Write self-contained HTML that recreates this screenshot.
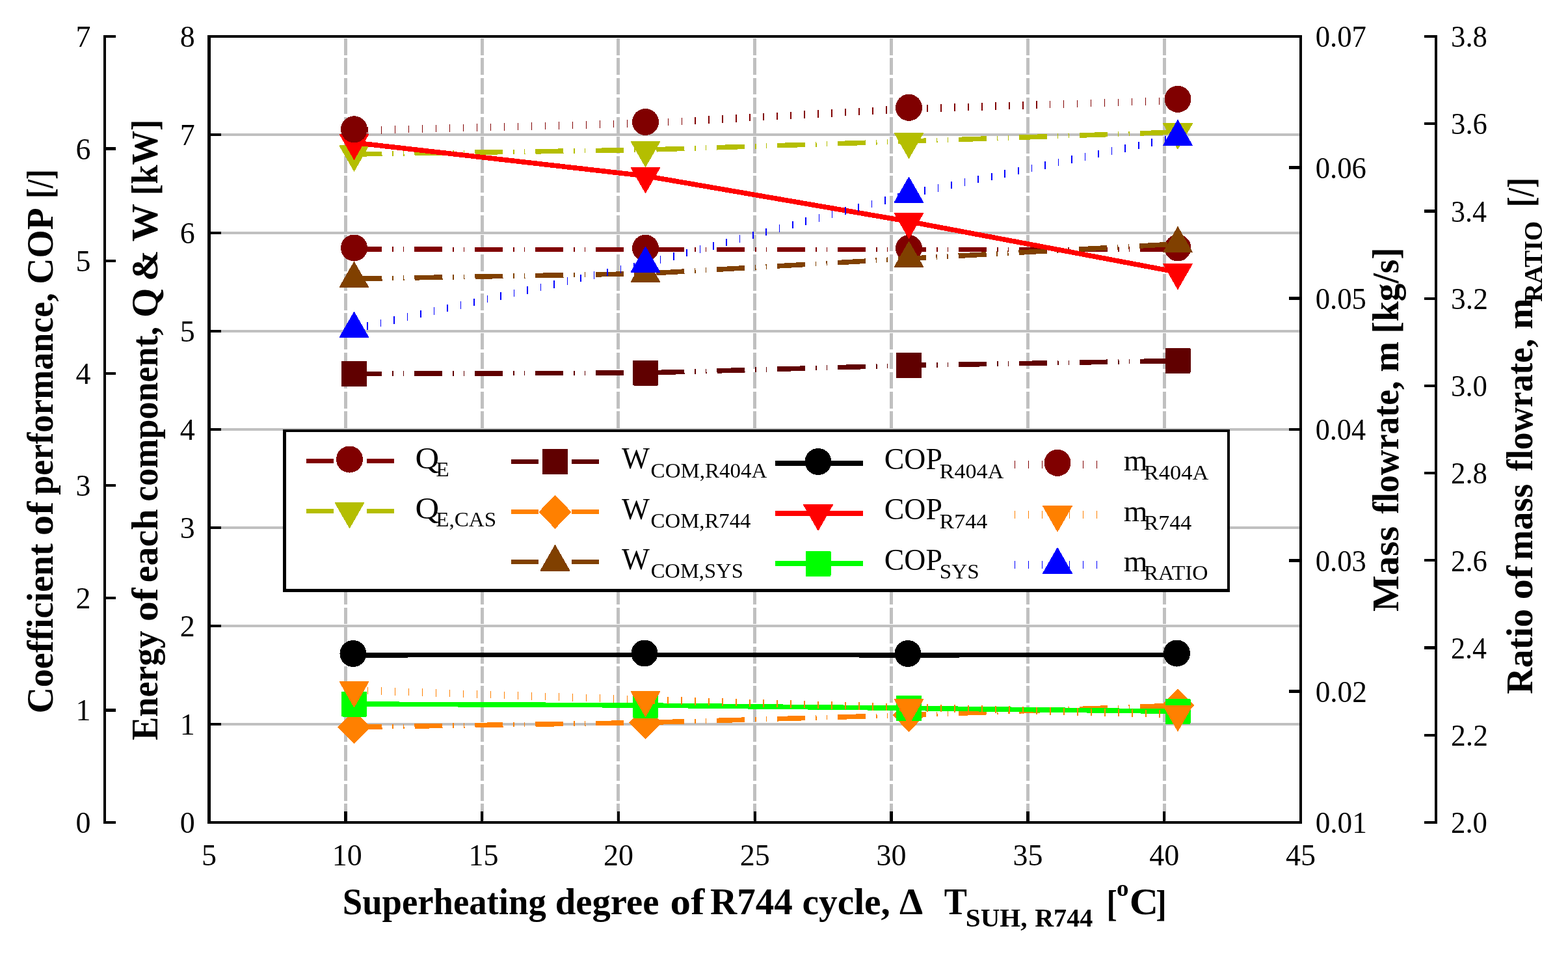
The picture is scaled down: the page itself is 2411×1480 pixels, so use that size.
<!DOCTYPE html><html><head><meta charset="utf-8"><title>Chart</title><style>html,body{margin:0;padding:0;background:#fff;overflow:hidden;}svg{display:block;}text{font-family:"Liberation Serif", "Times New Roman", serif;}</style></head><body>
<svg width="2411" height="1480" viewBox="0 0 2411 1480" shape-rendering="crispEdges">
<rect x="0" y="0" width="2411" height="1480" fill="#fff"/>
<line x1="321.5" y1="1113.0" x2="2000.0" y2="1113.0" stroke="#C0C0C0" stroke-width="4.4"/>
<line x1="321.5" y1="962.0" x2="2000.0" y2="962.0" stroke="#C0C0C0" stroke-width="4.4"/>
<line x1="321.5" y1="811.0" x2="2000.0" y2="811.0" stroke="#C0C0C0" stroke-width="4.4"/>
<line x1="321.5" y1="660.0" x2="2000.0" y2="660.0" stroke="#C0C0C0" stroke-width="4.4"/>
<line x1="321.5" y1="509.0" x2="2000.0" y2="509.0" stroke="#C0C0C0" stroke-width="4.4"/>
<line x1="321.5" y1="358.0" x2="2000.0" y2="358.0" stroke="#C0C0C0" stroke-width="4.4"/>
<line x1="321.5" y1="207.0" x2="2000.0" y2="207.0" stroke="#C0C0C0" stroke-width="4.4"/>
<line x1="531.31" y1="59.3" x2="531.31" y2="1264.0" stroke="#C0C0C0" stroke-width="5" stroke-dasharray="25.6 4.55"/>
<line x1="741.12" y1="59.3" x2="741.12" y2="1264.0" stroke="#C0C0C0" stroke-width="5" stroke-dasharray="25.6 4.55"/>
<line x1="950.94" y1="59.3" x2="950.94" y2="1264.0" stroke="#C0C0C0" stroke-width="5" stroke-dasharray="25.6 4.55"/>
<line x1="1160.75" y1="59.3" x2="1160.75" y2="1264.0" stroke="#C0C0C0" stroke-width="5" stroke-dasharray="25.6 4.55"/>
<line x1="1370.56" y1="59.3" x2="1370.56" y2="1264.0" stroke="#C0C0C0" stroke-width="5" stroke-dasharray="25.6 4.55"/>
<line x1="1580.38" y1="59.3" x2="1580.38" y2="1264.0" stroke="#C0C0C0" stroke-width="5" stroke-dasharray="25.6 4.55"/>
<line x1="1790.19" y1="59.3" x2="1790.19" y2="1264.0" stroke="#C0C0C0" stroke-width="5" stroke-dasharray="25.6 4.55"/>
<rect x="321.5" y="56.0" width="1678.5" height="1208.0" fill="none" stroke="#000" stroke-width="4.6"/>
<line x1="321.5" y1="1264.0" x2="339.5" y2="1264.0" stroke="#000" stroke-width="4.5"/>
<line x1="321.5" y1="1113.0" x2="339.5" y2="1113.0" stroke="#000" stroke-width="4.5"/>
<line x1="321.5" y1="962.0" x2="339.5" y2="962.0" stroke="#000" stroke-width="4.5"/>
<line x1="321.5" y1="811.0" x2="339.5" y2="811.0" stroke="#000" stroke-width="4.5"/>
<line x1="321.5" y1="660.0" x2="339.5" y2="660.0" stroke="#000" stroke-width="4.5"/>
<line x1="321.5" y1="509.0" x2="339.5" y2="509.0" stroke="#000" stroke-width="4.5"/>
<line x1="321.5" y1="358.0" x2="339.5" y2="358.0" stroke="#000" stroke-width="4.5"/>
<line x1="321.5" y1="207.0" x2="339.5" y2="207.0" stroke="#000" stroke-width="4.5"/>
<line x1="321.5" y1="56.0" x2="339.5" y2="56.0" stroke="#000" stroke-width="4.5"/>
<line x1="321.50" y1="1264.0" x2="321.50" y2="1247.0" stroke="#000" stroke-width="4.5"/>
<line x1="531.31" y1="1264.0" x2="531.31" y2="1247.0" stroke="#000" stroke-width="4.5"/>
<line x1="741.12" y1="1264.0" x2="741.12" y2="1247.0" stroke="#000" stroke-width="4.5"/>
<line x1="950.94" y1="1264.0" x2="950.94" y2="1247.0" stroke="#000" stroke-width="4.5"/>
<line x1="1160.75" y1="1264.0" x2="1160.75" y2="1247.0" stroke="#000" stroke-width="4.5"/>
<line x1="1370.56" y1="1264.0" x2="1370.56" y2="1247.0" stroke="#000" stroke-width="4.5"/>
<line x1="1580.38" y1="1264.0" x2="1580.38" y2="1247.0" stroke="#000" stroke-width="4.5"/>
<line x1="1790.19" y1="1264.0" x2="1790.19" y2="1247.0" stroke="#000" stroke-width="4.5"/>
<line x1="2000.00" y1="1264.0" x2="2000.00" y2="1247.0" stroke="#000" stroke-width="4.5"/>
<line x1="2000.0" y1="1264.00" x2="1982.0" y2="1264.00" stroke="#000" stroke-width="4.5"/>
<line x1="2000.0" y1="1062.67" x2="1982.0" y2="1062.67" stroke="#000" stroke-width="4.5"/>
<line x1="2000.0" y1="861.33" x2="1982.0" y2="861.33" stroke="#000" stroke-width="4.5"/>
<line x1="2000.0" y1="660.00" x2="1982.0" y2="660.00" stroke="#000" stroke-width="4.5"/>
<line x1="2000.0" y1="458.67" x2="1982.0" y2="458.67" stroke="#000" stroke-width="4.5"/>
<line x1="2000.0" y1="257.33" x2="1982.0" y2="257.33" stroke="#000" stroke-width="4.5"/>
<line x1="2000.0" y1="56.00" x2="1982.0" y2="56.00" stroke="#000" stroke-width="4.5"/>
<line x1="161.0" y1="53.75" x2="161.0" y2="1266.25" stroke="#000" stroke-width="4"/>
<line x1="159.0" y1="1264.00" x2="178.0" y2="1264.00" stroke="#000" stroke-width="4.3"/>
<line x1="159.0" y1="1091.43" x2="178.0" y2="1091.43" stroke="#000" stroke-width="4.3"/>
<line x1="159.0" y1="918.86" x2="178.0" y2="918.86" stroke="#000" stroke-width="4.3"/>
<line x1="159.0" y1="746.29" x2="178.0" y2="746.29" stroke="#000" stroke-width="4.3"/>
<line x1="159.0" y1="573.71" x2="178.0" y2="573.71" stroke="#000" stroke-width="4.3"/>
<line x1="159.0" y1="401.14" x2="178.0" y2="401.14" stroke="#000" stroke-width="4.3"/>
<line x1="159.0" y1="228.57" x2="178.0" y2="228.57" stroke="#000" stroke-width="4.3"/>
<line x1="159.0" y1="56.00" x2="178.0" y2="56.00" stroke="#000" stroke-width="4.3"/>
<line x1="2208.0" y1="53.75" x2="2208.0" y2="1266.25" stroke="#000" stroke-width="4"/>
<line x1="2210.0" y1="1264.00" x2="2190.0" y2="1264.00" stroke="#000" stroke-width="4.3"/>
<line x1="2210.0" y1="1129.78" x2="2190.0" y2="1129.78" stroke="#000" stroke-width="4.3"/>
<line x1="2210.0" y1="995.56" x2="2190.0" y2="995.56" stroke="#000" stroke-width="4.3"/>
<line x1="2210.0" y1="861.33" x2="2190.0" y2="861.33" stroke="#000" stroke-width="4.3"/>
<line x1="2210.0" y1="727.11" x2="2190.0" y2="727.11" stroke="#000" stroke-width="4.3"/>
<line x1="2210.0" y1="592.89" x2="2190.0" y2="592.89" stroke="#000" stroke-width="4.3"/>
<line x1="2210.0" y1="458.67" x2="2190.0" y2="458.67" stroke="#000" stroke-width="4.3"/>
<line x1="2210.0" y1="324.44" x2="2190.0" y2="324.44" stroke="#000" stroke-width="4.3"/>
<line x1="2210.0" y1="190.22" x2="2190.0" y2="190.22" stroke="#000" stroke-width="4.3"/>
<line x1="2210.0" y1="56.00" x2="2190.0" y2="56.00" stroke="#000" stroke-width="4.3"/>
<text x="139.5" y="1280.0" font-size="46" text-anchor="end">0</text>
<text x="139.5" y="1107.4" font-size="46" text-anchor="end">1</text>
<text x="139.5" y="934.9" font-size="46" text-anchor="end">2</text>
<text x="139.5" y="762.3" font-size="46" text-anchor="end">3</text>
<text x="139.5" y="589.7" font-size="46" text-anchor="end">4</text>
<text x="139.5" y="417.1" font-size="46" text-anchor="end">5</text>
<text x="139.5" y="244.6" font-size="46" text-anchor="end">6</text>
<text x="139.5" y="72.0" font-size="46" text-anchor="end">7</text>
<text x="299.7" y="1280.0" font-size="46" text-anchor="end">0</text>
<text x="299.7" y="1129.0" font-size="46" text-anchor="end">1</text>
<text x="299.7" y="978.0" font-size="46" text-anchor="end">2</text>
<text x="299.7" y="827.0" font-size="46" text-anchor="end">3</text>
<text x="299.7" y="676.0" font-size="46" text-anchor="end">4</text>
<text x="299.7" y="525.0" font-size="46" text-anchor="end">5</text>
<text x="299.7" y="374.0" font-size="46" text-anchor="end">6</text>
<text x="299.7" y="223.0" font-size="46" text-anchor="end">7</text>
<text x="299.7" y="72.0" font-size="46" text-anchor="end">8</text>
<text x="2022.63" y="1280.20" font-size="46" font-weight="normal" textLength="79.33" lengthAdjust="spacingAndGlyphs">0.01</text>
<text x="2022.63" y="1078.87" font-size="46" font-weight="normal" textLength="79.33" lengthAdjust="spacingAndGlyphs">0.02</text>
<text x="2022.65" y="877.53" font-size="46" font-weight="normal" textLength="78.30" lengthAdjust="spacingAndGlyphs">0.03</text>
<text x="2022.68" y="676.20" font-size="46" font-weight="normal" textLength="77.30" lengthAdjust="spacingAndGlyphs">0.04</text>
<text x="2022.65" y="474.87" font-size="46" font-weight="normal" textLength="78.30" lengthAdjust="spacingAndGlyphs">0.05</text>
<text x="2022.65" y="273.53" font-size="46" font-weight="normal" textLength="78.30" lengthAdjust="spacingAndGlyphs">0.06</text>
<text x="2022.65" y="72.20" font-size="46" font-weight="normal" textLength="78.30" lengthAdjust="spacingAndGlyphs">0.07</text>
<text x="2231.06" y="1280.20" font-size="46" font-weight="normal" textLength="55.90" lengthAdjust="spacingAndGlyphs">2.0</text>
<text x="2231.02" y="1145.98" font-size="46" font-weight="normal" textLength="56.96" lengthAdjust="spacingAndGlyphs">2.2</text>
<text x="2231.09" y="1011.76" font-size="46" font-weight="normal" textLength="54.89" lengthAdjust="spacingAndGlyphs">2.4</text>
<text x="2231.06" y="877.53" font-size="46" font-weight="normal" textLength="55.90" lengthAdjust="spacingAndGlyphs">2.6</text>
<text x="2231.06" y="743.31" font-size="46" font-weight="normal" textLength="55.90" lengthAdjust="spacingAndGlyphs">2.8</text>
<text x="2231.06" y="609.09" font-size="46" font-weight="normal" textLength="55.90" lengthAdjust="spacingAndGlyphs">3.0</text>
<text x="2231.02" y="474.87" font-size="46" font-weight="normal" textLength="56.96" lengthAdjust="spacingAndGlyphs">3.2</text>
<text x="2231.09" y="340.64" font-size="46" font-weight="normal" textLength="54.89" lengthAdjust="spacingAndGlyphs">3.4</text>
<text x="2231.06" y="206.42" font-size="46" font-weight="normal" textLength="55.90" lengthAdjust="spacingAndGlyphs">3.6</text>
<text x="2231.06" y="72.20" font-size="46" font-weight="normal" textLength="55.90" lengthAdjust="spacingAndGlyphs">3.8</text>
<text x="321.5" y="1329.5" font-size="46" text-anchor="middle">5</text>
<text x="533.8" y="1329.5" font-size="46" text-anchor="middle">10</text>
<text x="743.6" y="1329.5" font-size="46" text-anchor="middle">15</text>
<text x="950.9" y="1329.5" font-size="46" text-anchor="middle">20</text>
<text x="1160.8" y="1329.5" font-size="46" text-anchor="middle">25</text>
<text x="1370.6" y="1329.5" font-size="46" text-anchor="middle">30</text>
<text x="1580.4" y="1329.5" font-size="46" text-anchor="middle">35</text>
<text x="1790.2" y="1329.5" font-size="46" text-anchor="middle">40</text>
<text x="2000.0" y="1329.5" font-size="46" text-anchor="middle">45</text>
<polyline points="544.5,383.2 992.5,383.5 1397.5,383.7 1811.0,383.2" fill="none" stroke="#800000" stroke-width="7.6" stroke-dasharray="43 15.75 1.5 15.25 1.5 16"/>
<circle cx="544.5" cy="381.0" r="20.5" fill="#800000"/>
<circle cx="992.5" cy="381.3" r="20.5" fill="#800000"/>
<circle cx="1397.5" cy="381.5" r="20.5" fill="#800000"/>
<circle cx="1811.0" cy="381.0" r="20.5" fill="#800000"/>
<polyline points="544.5,237.0 992.5,230.3 1397.5,217.1 1811.0,202.9" fill="none" stroke="#B4BE00" stroke-width="7.6" stroke-dasharray="43 15.75 1.5 15.25 1.5 16"/>
<polygon points="544.5,263.2 567.0,223.9 522.0,223.9" fill="#B4BE00" stroke="#B4BE00" stroke-width="1" stroke-linejoin="round"/>
<polygon points="992.5,256.5 1015.0,217.2 970.0,217.2" fill="#B4BE00" stroke="#B4BE00" stroke-width="1" stroke-linejoin="round"/>
<polygon points="1397.5,243.3 1420.0,204.0 1375.0,204.0" fill="#B4BE00" stroke="#B4BE00" stroke-width="1" stroke-linejoin="round"/>
<polygon points="1811.0,229.1 1833.5,189.8 1788.5,189.8" fill="#B4BE00" stroke="#B4BE00" stroke-width="1" stroke-linejoin="round"/>
<polyline points="544.5,574.5 992.5,573.0 1397.5,561.6 1811.0,554.4" fill="none" stroke="#600000" stroke-width="7.6" stroke-dasharray="43 15.75 1.5 15.25 1.5 16"/>
<rect x="525.0" y="555.0" width="39.0" height="39.0" rx="1.5" fill="#600000"/>
<rect x="973.0" y="553.5" width="39.0" height="39.0" rx="1.5" fill="#600000"/>
<rect x="1378.0" y="542.1" width="39.0" height="39.0" rx="1.5" fill="#600000"/>
<rect x="1791.5" y="534.9" width="39.0" height="39.0" rx="1.5" fill="#600000"/>
<polyline points="544.5,1117.5 992.5,1110.5 1397.5,1099.0 1811.0,1084.0" fill="none" stroke="#FF8000" stroke-width="7.6" stroke-dasharray="43 15.75 1.5 15.25 1.5 16"/>
<polygon points="544.5,1091.5 569.5,1117.5 544.5,1143.5 519.5,1117.5" fill="#FF8000"/>
<polygon points="992.5,1084.5 1017.5,1110.5 992.5,1136.5 967.5,1110.5" fill="#FF8000"/>
<polygon points="1397.5,1073.0 1422.5,1099.0 1397.5,1125.0 1372.5,1099.0" fill="#FF8000"/>
<polygon points="1811.0,1058.0 1836.0,1084.0 1811.0,1110.0 1786.0,1084.0" fill="#FF8000"/>
<polyline points="544.5,428.5 992.5,420.5 1397.5,397.4 1811.0,374.8" fill="none" stroke="#804000" stroke-width="7.6" stroke-dasharray="43 15.75 1.5 15.25 1.5 16"/>
<polygon points="544.5,402.3 567.0,441.6 522.0,441.6" fill="#804000" stroke="#804000" stroke-width="1" stroke-linejoin="round"/>
<polygon points="992.5,394.3 1015.0,433.6 970.0,433.6" fill="#804000" stroke="#804000" stroke-width="1" stroke-linejoin="round"/>
<polygon points="1397.5,371.2 1420.0,410.5 1375.0,410.5" fill="#804000" stroke="#804000" stroke-width="1" stroke-linejoin="round"/>
<polygon points="1811.0,348.6 1833.5,387.9 1788.5,387.9" fill="#804000" stroke="#804000" stroke-width="1" stroke-linejoin="round"/>
<polyline points="544.5,1006.8 992.5,1006.3 1397.5,1006.8 1811.0,1006.3" fill="none" stroke="#000000" stroke-width="7.6" stroke-linejoin="round"/>
<circle cx="543.0" cy="1004.5" r="20.5" fill="#000000"/>
<circle cx="991.0" cy="1004.0" r="20.5" fill="#000000"/>
<circle cx="1396.0" cy="1004.5" r="20.5" fill="#000000"/>
<circle cx="1809.5" cy="1004.0" r="20.5" fill="#000000"/>
<polyline points="544.5,219.2 992.5,270.4 1397.5,340.4 1811.0,418.4" fill="none" stroke="#FF0000" stroke-width="7.6" stroke-linejoin="round"/>
<polygon points="544.5,245.4 567.0,206.1 522.0,206.1" fill="#FF0000" stroke="#FF0000" stroke-width="1" stroke-linejoin="round"/>
<polygon points="992.5,296.6 1015.0,257.3 970.0,257.3" fill="#FF0000" stroke="#FF0000" stroke-width="1" stroke-linejoin="round"/>
<polygon points="1397.5,366.6 1420.0,327.3 1375.0,327.3" fill="#FF0000" stroke="#FF0000" stroke-width="1" stroke-linejoin="round"/>
<polygon points="1811.0,444.6 1833.5,405.3 1788.5,405.3" fill="#FF0000" stroke="#FF0000" stroke-width="1" stroke-linejoin="round"/>
<polyline points="544.5,1082.0 992.5,1084.0 1397.5,1088.4 1811.0,1093.4" fill="none" stroke="#00FF00" stroke-width="7.6" stroke-linejoin="round"/>
<rect x="525.0" y="1062.5" width="39.0" height="39.0" rx="1.5" fill="#00FF00"/>
<rect x="973.0" y="1064.5" width="39.0" height="39.0" rx="1.5" fill="#00FF00"/>
<rect x="1378.0" y="1068.9" width="39.0" height="39.0" rx="1.5" fill="#00FF00"/>
<rect x="1791.5" y="1073.9" width="39.0" height="39.0" rx="1.5" fill="#00FF00"/>
<path d="M543.7,195.1h1.6v11.5h-1.6zM564.7,194.5h1.6v11.5h-1.6zM585.7,194.0h1.6v11.5h-1.6zM606.7,193.4h1.6v11.5h-1.6zM627.7,192.9h1.6v11.5h-1.6zM648.7,192.4h1.6v11.5h-1.6zM669.7,191.8h1.6v11.5h-1.6zM690.7,191.3h1.6v11.5h-1.6zM711.6,190.8h1.6v11.5h-1.6zM732.6,190.2h1.6v11.5h-1.6zM753.6,189.7h1.6v11.5h-1.6zM774.6,189.2h1.6v11.5h-1.6zM795.6,188.6h1.6v11.5h-1.6zM816.6,188.1h1.6v11.5h-1.6zM837.6,187.6h1.6v11.5h-1.6zM858.6,187.0h1.6v11.5h-1.6zM879.6,186.5h1.6v11.5h-1.6zM900.6,186.0h1.6v11.5h-1.6zM921.6,185.4h1.6v11.5h-1.6zM942.6,184.9h1.6v11.5h-1.6zM963.6,184.4h1.6v11.5h-1.6zM984.6,183.8h1.6v11.5h-1.6zM1005.5,182.9h1.6v11.5h-1.6zM1026.5,181.8h1.6v11.5h-1.6zM1047.5,180.6h1.6v11.5h-1.6zM1068.4,179.5h1.6v11.5h-1.6zM1089.4,178.3h1.6v11.5h-1.6zM1110.4,177.2h1.6v11.5h-1.6zM1131.3,176.0h1.6v11.5h-1.6zM1152.3,174.9h1.6v11.5h-1.6zM1173.3,173.7h1.6v11.5h-1.6zM1194.3,172.6h1.6v11.5h-1.6zM1215.2,171.5h1.6v11.5h-1.6zM1236.2,170.3h1.6v11.5h-1.6zM1257.2,169.2h1.6v11.5h-1.6zM1278.1,168.0h1.6v11.5h-1.6zM1299.1,166.9h1.6v11.5h-1.6zM1320.1,165.7h1.6v11.5h-1.6zM1341.0,164.6h1.6v11.5h-1.6zM1362.0,163.4h1.6v11.5h-1.6zM1383.0,162.3h1.6v11.5h-1.6zM1403.9,161.3h1.6v11.5h-1.6zM1424.9,160.7h1.6v11.5h-1.6zM1445.9,160.0h1.6v11.5h-1.6zM1466.9,159.4h1.6v11.5h-1.6zM1487.9,158.7h1.6v11.5h-1.6zM1508.9,158.0h1.6v11.5h-1.6zM1529.9,157.4h1.6v11.5h-1.6zM1550.9,156.7h1.6v11.5h-1.6zM1571.9,156.1h1.6v11.5h-1.6zM1592.9,155.4h1.6v11.5h-1.6zM1613.8,154.8h1.6v11.5h-1.6zM1634.8,154.1h1.6v11.5h-1.6zM1655.8,153.5h1.6v11.5h-1.6zM1676.8,152.8h1.6v11.5h-1.6zM1697.8,152.2h1.6v11.5h-1.6zM1718.8,151.5h1.6v11.5h-1.6zM1739.8,150.8h1.6v11.5h-1.6zM1760.8,150.2h1.6v11.5h-1.6zM1781.8,149.5h1.6v11.5h-1.6zM1802.8,148.9h1.6v11.5h-1.6z" fill="#800000"/>
<circle cx="544.5" cy="198.8" r="20.5" fill="#800000"/>
<circle cx="992.5" cy="187.4" r="20.5" fill="#800000"/>
<circle cx="1397.5" cy="165.3" r="20.5" fill="#800000"/>
<circle cx="1811.0" cy="152.4" r="20.5" fill="#800000"/>
<path d="M543.7,1055.0h1.6v11.5h-1.6zM564.7,1055.6h1.6v11.5h-1.6zM585.7,1056.3h1.6v11.5h-1.6zM606.7,1057.0h1.6v11.5h-1.6zM627.7,1057.7h1.6v11.5h-1.6zM648.6,1058.4h1.6v11.5h-1.6zM669.6,1059.1h1.6v11.5h-1.6zM690.6,1059.8h1.6v11.5h-1.6zM711.6,1060.5h1.6v11.5h-1.6zM732.6,1061.2h1.6v11.5h-1.6zM753.6,1061.9h1.6v11.5h-1.6zM774.6,1062.6h1.6v11.5h-1.6zM795.6,1063.3h1.6v11.5h-1.6zM816.6,1064.0h1.6v11.5h-1.6zM837.5,1064.7h1.6v11.5h-1.6zM858.5,1065.4h1.6v11.5h-1.6zM879.5,1066.0h1.6v11.5h-1.6zM900.5,1066.7h1.6v11.5h-1.6zM921.5,1067.4h1.6v11.5h-1.6zM942.5,1068.1h1.6v11.5h-1.6zM963.5,1068.8h1.6v11.5h-1.6zM984.5,1069.5h1.6v11.5h-1.6zM1005.4,1070.2h1.6v11.5h-1.6zM1026.4,1070.8h1.6v11.5h-1.6zM1047.4,1071.4h1.6v11.5h-1.6zM1068.4,1072.0h1.6v11.5h-1.6zM1089.4,1072.6h1.6v11.5h-1.6zM1110.4,1073.2h1.6v11.5h-1.6zM1131.4,1073.9h1.6v11.5h-1.6zM1152.4,1074.5h1.6v11.5h-1.6zM1173.4,1075.1h1.6v11.5h-1.6zM1194.4,1075.7h1.6v11.5h-1.6zM1215.4,1076.3h1.6v11.5h-1.6zM1236.4,1076.9h1.6v11.5h-1.6zM1257.3,1077.6h1.6v11.5h-1.6zM1278.3,1078.2h1.6v11.5h-1.6zM1299.3,1078.8h1.6v11.5h-1.6zM1320.3,1079.4h1.6v11.5h-1.6zM1341.3,1080.0h1.6v11.5h-1.6zM1362.3,1080.6h1.6v11.5h-1.6zM1383.3,1081.3h1.6v11.5h-1.6zM1404.3,1081.8h1.6v11.5h-1.6zM1425.3,1082.3h1.6v11.5h-1.6zM1446.3,1082.9h1.6v11.5h-1.6zM1467.3,1083.4h1.6v11.5h-1.6zM1488.3,1083.9h1.6v11.5h-1.6zM1509.2,1084.4h1.6v11.5h-1.6zM1530.2,1084.9h1.6v11.5h-1.6zM1551.2,1085.4h1.6v11.5h-1.6zM1572.2,1085.9h1.6v11.5h-1.6zM1593.2,1086.5h1.6v11.5h-1.6zM1614.2,1087.0h1.6v11.5h-1.6zM1635.2,1087.5h1.6v11.5h-1.6zM1656.2,1088.0h1.6v11.5h-1.6zM1677.2,1088.5h1.6v11.5h-1.6zM1698.2,1089.0h1.6v11.5h-1.6zM1719.2,1089.5h1.6v11.5h-1.6zM1740.2,1090.0h1.6v11.5h-1.6zM1761.2,1090.6h1.6v11.5h-1.6zM1782.2,1091.1h1.6v11.5h-1.6zM1803.2,1091.6h1.6v11.5h-1.6z" fill="#FF8000"/>
<polygon points="544.5,1086.9 567.0,1047.6 522.0,1047.6" fill="#FF8000" stroke="#FF8000" stroke-width="1" stroke-linejoin="round"/>
<polygon points="992.5,1101.7 1015.0,1062.4 970.0,1062.4" fill="#FF8000" stroke="#FF8000" stroke-width="1" stroke-linejoin="round"/>
<polygon points="1397.5,1113.6 1420.0,1074.3 1375.0,1074.3" fill="#FF8000" stroke="#FF8000" stroke-width="1" stroke-linejoin="round"/>
<polygon points="1811.0,1123.7 1833.5,1084.4 1788.5,1084.4" fill="#FF8000" stroke="#FF8000" stroke-width="1" stroke-linejoin="round"/>
<path d="M543.7,499.8h1.6v11.5h-1.6zM564.2,495.2h1.6v11.5h-1.6zM584.7,490.6h1.6v11.5h-1.6zM605.2,486.0h1.6v11.5h-1.6zM625.7,481.4h1.6v11.5h-1.6zM646.2,476.8h1.6v11.5h-1.6zM666.7,472.2h1.6v11.5h-1.6zM687.2,467.7h1.6v11.5h-1.6zM707.6,463.1h1.6v11.5h-1.6zM728.1,458.5h1.6v11.5h-1.6zM748.6,453.9h1.6v11.5h-1.6zM769.1,449.3h1.6v11.5h-1.6zM789.6,444.7h1.6v11.5h-1.6zM810.1,440.2h1.6v11.5h-1.6zM830.6,435.6h1.6v11.5h-1.6zM851.1,431.0h1.6v11.5h-1.6zM871.6,426.4h1.6v11.5h-1.6zM892.1,421.8h1.6v11.5h-1.6zM912.6,417.2h1.6v11.5h-1.6zM933.1,412.7h1.6v11.5h-1.6zM953.6,408.1h1.6v11.5h-1.6zM974.1,403.5h1.6v11.5h-1.6zM994.5,398.8h1.6v11.5h-1.6zM1014.8,393.4h1.6v11.5h-1.6zM1035.1,388.1h1.6v11.5h-1.6zM1055.4,382.7h1.6v11.5h-1.6zM1075.7,377.3h1.6v11.5h-1.6zM1096.1,372.0h1.6v11.5h-1.6zM1116.4,366.6h1.6v11.5h-1.6zM1136.7,361.3h1.6v11.5h-1.6zM1157.0,355.9h1.6v11.5h-1.6zM1177.3,350.5h1.6v11.5h-1.6zM1197.6,345.2h1.6v11.5h-1.6zM1217.9,339.8h1.6v11.5h-1.6zM1238.2,334.4h1.6v11.5h-1.6zM1258.5,329.1h1.6v11.5h-1.6zM1278.8,323.7h1.6v11.5h-1.6zM1299.1,318.3h1.6v11.5h-1.6zM1319.4,313.0h1.6v11.5h-1.6zM1339.7,307.6h1.6v11.5h-1.6zM1360.0,302.2h1.6v11.5h-1.6zM1380.3,296.9h1.6v11.5h-1.6zM1400.6,291.7h1.6v11.5h-1.6zM1421.2,287.4h1.6v11.5h-1.6zM1441.7,283.0h1.6v11.5h-1.6zM1462.3,278.6h1.6v11.5h-1.6zM1482.8,274.3h1.6v11.5h-1.6zM1503.4,269.9h1.6v11.5h-1.6zM1523.9,265.6h1.6v11.5h-1.6zM1544.4,261.2h1.6v11.5h-1.6zM1565.0,256.9h1.6v11.5h-1.6zM1585.5,252.5h1.6v11.5h-1.6zM1606.1,248.1h1.6v11.5h-1.6zM1626.6,243.8h1.6v11.5h-1.6zM1647.2,239.4h1.6v11.5h-1.6zM1667.7,235.1h1.6v11.5h-1.6zM1688.2,230.7h1.6v11.5h-1.6zM1708.8,226.4h1.6v11.5h-1.6zM1729.3,222.0h1.6v11.5h-1.6zM1749.9,217.6h1.6v11.5h-1.6zM1770.4,213.3h1.6v11.5h-1.6zM1791.0,208.9h1.6v11.5h-1.6z" fill="#0000FF"/>
<polygon points="544.5,479.3 567.0,518.6 522.0,518.6" fill="#0000FF" stroke="#0000FF" stroke-width="1" stroke-linejoin="round"/>
<polygon points="992.5,379.1 1015.0,418.4 970.0,418.4" fill="#0000FF" stroke="#0000FF" stroke-width="1" stroke-linejoin="round"/>
<polygon points="1397.5,272.1 1420.0,311.4 1375.0,311.4" fill="#0000FF" stroke="#0000FF" stroke-width="1" stroke-linejoin="round"/>
<polygon points="1811.0,184.4 1833.5,223.7 1788.5,223.7" fill="#0000FF" stroke="#0000FF" stroke-width="1" stroke-linejoin="round"/>
<rect x="437.5" y="662" width="1451.5" height="245.3" fill="#fff" stroke="#000" stroke-width="4.6"/>
<line x1="471" y1="708.3" x2="513" y2="708.3" stroke="#800000" stroke-width="7"/>
<line x1="564" y1="708.3" x2="606" y2="708.3" stroke="#800000" stroke-width="7"/>
<circle cx="537.5" cy="706.0" r="20.5" fill="#800000"/>
<text x="638.49" y="719.50" font-size="46" font-weight="normal" textLength="36.67" lengthAdjust="spacingAndGlyphs">Q</text>
<text x="670.22" y="732.00" font-size="31" font-weight="normal" textLength="20.48" lengthAdjust="spacingAndGlyphs">E</text>
<line x1="471" y1="785.5" x2="513" y2="785.5" stroke="#B4BE00" stroke-width="7"/>
<line x1="564" y1="785.5" x2="606" y2="785.5" stroke="#B4BE00" stroke-width="7"/>
<polygon points="537.5,811.7 560.0,772.4 515.0,772.4" fill="#B4BE00" stroke="#B4BE00" stroke-width="1" stroke-linejoin="round"/>
<text x="638.49" y="796.70" font-size="46" font-weight="normal" textLength="36.67" lengthAdjust="spacingAndGlyphs">Q</text>
<text x="670.23" y="809.20" font-size="31" font-weight="normal" textLength="93.01" lengthAdjust="spacingAndGlyphs">E,CAS</text>
<line x1="786" y1="709.5" x2="828" y2="709.5" stroke="#600000" stroke-width="7"/>
<line x1="879" y1="709.5" x2="921" y2="709.5" stroke="#600000" stroke-width="7"/>
<rect x="834.0" y="690.0" width="39.0" height="39.0" rx="1.5" fill="#600000"/>
<text x="956.00" y="720.30" font-size="46" font-weight="normal" textLength="42.92" lengthAdjust="spacingAndGlyphs">W</text>
<text x="1000.64" y="733.50" font-size="31" font-weight="normal" textLength="178.81" lengthAdjust="spacingAndGlyphs">COM,R404A</text>
<line x1="786" y1="786.7" x2="828" y2="786.7" stroke="#FF8000" stroke-width="7"/>
<line x1="879" y1="786.7" x2="921" y2="786.7" stroke="#FF8000" stroke-width="7"/>
<polygon points="853.5,760.7 878.5,786.7 853.5,812.7 828.5,786.7" fill="#FF8000"/>
<text x="956.00" y="797.50" font-size="46" font-weight="normal" textLength="42.92" lengthAdjust="spacingAndGlyphs">W</text>
<text x="1000.64" y="810.70" font-size="31" font-weight="normal" textLength="153.85" lengthAdjust="spacingAndGlyphs">COM,R744</text>
<line x1="786" y1="863.9" x2="828" y2="863.9" stroke="#804000" stroke-width="7"/>
<line x1="879" y1="863.9" x2="921" y2="863.9" stroke="#804000" stroke-width="7"/>
<polygon points="853.5,837.7 876.0,877.0 831.0,877.0" fill="#804000" stroke="#804000" stroke-width="1" stroke-linejoin="round"/>
<text x="956.00" y="874.70" font-size="46" font-weight="normal" textLength="42.92" lengthAdjust="spacingAndGlyphs">W</text>
<text x="1000.65" y="887.90" font-size="31" font-weight="normal" textLength="142.11" lengthAdjust="spacingAndGlyphs">COM,SYS</text>
<line x1="1192" y1="711.8" x2="1327" y2="711.8" stroke="#000000" stroke-width="8"/>
<circle cx="1258.0" cy="709.5" r="20.5" fill="#000000"/>
<text x="1359.81" y="721.20" font-size="46" font-weight="normal" textLength="89.07" lengthAdjust="spacingAndGlyphs">COP</text>
<text x="1444.60" y="734.60" font-size="31" font-weight="normal" textLength="98.74" lengthAdjust="spacingAndGlyphs">R404A</text>
<line x1="1192" y1="789.0" x2="1327" y2="789.0" stroke="#FF0000" stroke-width="8"/>
<polygon points="1258.0,815.2 1280.5,775.9 1235.5,775.9" fill="#FF0000" stroke="#FF0000" stroke-width="1" stroke-linejoin="round"/>
<text x="1359.81" y="798.40" font-size="46" font-weight="normal" textLength="89.07" lengthAdjust="spacingAndGlyphs">COP</text>
<text x="1444.60" y="811.80" font-size="31" font-weight="normal" textLength="73.60" lengthAdjust="spacingAndGlyphs">R744</text>
<line x1="1192" y1="866.2" x2="1327" y2="866.2" stroke="#00FF00" stroke-width="8"/>
<rect x="1238.5" y="846.7" width="39.0" height="39.0" rx="1.5" fill="#00FF00"/>
<text x="1359.81" y="875.60" font-size="46" font-weight="normal" textLength="89.07" lengthAdjust="spacingAndGlyphs">COP</text>
<text x="1444.86" y="889.00" font-size="31" font-weight="normal" textLength="60.85" lengthAdjust="spacingAndGlyphs">SYS</text>
<path d="M1559.9,707.6h1.4v12.0h-1.4zM1580.9,707.6h1.4v12.0h-1.4zM1601.9,707.6h1.4v12.0h-1.4zM1622.9,707.6h1.4v12.0h-1.4zM1643.9,707.6h1.4v12.0h-1.4zM1664.9,707.6h1.4v12.0h-1.4zM1685.9,707.6h1.4v12.0h-1.4z" fill="#800000"/>
<circle cx="1626.0" cy="711.4" r="20.5" fill="#800000"/>
<text x="1727.77" y="723.40" font-size="46" font-weight="normal" textLength="36.73" lengthAdjust="spacingAndGlyphs">m</text>
<text x="1758.69" y="737.00" font-size="31" font-weight="normal" textLength="99.76" lengthAdjust="spacingAndGlyphs">R404A</text>
<path d="M1559.9,784.8h1.4v12.0h-1.4zM1580.9,784.8h1.4v12.0h-1.4zM1601.9,784.8h1.4v12.0h-1.4zM1622.9,784.8h1.4v12.0h-1.4zM1643.9,784.8h1.4v12.0h-1.4zM1664.9,784.8h1.4v12.0h-1.4zM1685.9,784.8h1.4v12.0h-1.4z" fill="#FF8000"/>
<polygon points="1626.0,817.0 1648.5,777.7 1603.5,777.7" fill="#FF8000" stroke="#FF8000" stroke-width="1" stroke-linejoin="round"/>
<text x="1727.77" y="800.60" font-size="46" font-weight="normal" textLength="36.73" lengthAdjust="spacingAndGlyphs">m</text>
<text x="1758.70" y="814.20" font-size="31" font-weight="normal" textLength="73.60" lengthAdjust="spacingAndGlyphs">R744</text>
<path d="M1559.9,862.0h1.4v12.0h-1.4zM1580.9,862.0h1.4v12.0h-1.4zM1601.9,862.0h1.4v12.0h-1.4zM1622.9,862.0h1.4v12.0h-1.4zM1643.9,862.0h1.4v12.0h-1.4zM1664.9,862.0h1.4v12.0h-1.4zM1685.9,862.0h1.4v12.0h-1.4z" fill="#0000FF"/>
<polygon points="1626.0,841.8 1648.5,881.1 1603.5,881.1" fill="#0000FF" stroke="#0000FF" stroke-width="1" stroke-linejoin="round"/>
<text x="1727.77" y="877.80" font-size="46" font-weight="normal" textLength="36.73" lengthAdjust="spacingAndGlyphs">m</text>
<text x="1758.72" y="891.40" font-size="31" font-weight="normal" textLength="98.87" lengthAdjust="spacingAndGlyphs">RATIO</text>
<text transform="translate(81.10,1096.60) rotate(-90)" x="0" y="0" font-size="58" font-weight="bold" textLength="261.22" lengthAdjust="spacingAndGlyphs">Coefficient</text>
<text transform="translate(81.10,823.17) rotate(-90)" x="0" y="0" font-size="58" font-weight="bold" textLength="52.34" lengthAdjust="spacingAndGlyphs">of</text>
<text transform="translate(81.10,760.73) rotate(-90)" x="0" y="0" font-size="58" font-weight="bold" textLength="310.43" lengthAdjust="spacingAndGlyphs">performance,</text>
<text transform="translate(81.10,436.67) rotate(-90)" x="0" y="0" font-size="58" font-weight="bold" textLength="117.25" lengthAdjust="spacingAndGlyphs">COP</text>
<text transform="translate(81.10,305.09) rotate(-90)" x="0" y="0" font-size="58" font-weight="bold" textLength="45.08" lengthAdjust="spacingAndGlyphs">[/]</text>
<text transform="translate(241.50,1137.73) rotate(-90)" x="0" y="0" font-size="58" font-weight="bold" textLength="168.34" lengthAdjust="spacingAndGlyphs">Energy</text>
<text transform="translate(241.50,955.03) rotate(-90)" x="0" y="0" font-size="58" font-weight="bold" textLength="51.41" lengthAdjust="spacingAndGlyphs">of</text>
<text transform="translate(241.50,895.30) rotate(-90)" x="0" y="0" font-size="58" font-weight="bold" textLength="112.95" lengthAdjust="spacingAndGlyphs">each</text>
<text transform="translate(241.50,770.76) rotate(-90)" x="0" y="0" font-size="58" font-weight="bold" textLength="268.89" lengthAdjust="spacingAndGlyphs">component,</text>
<text transform="translate(241.50,488.12) rotate(-90)" x="0" y="0" font-size="58" font-weight="bold" textLength="45.35" lengthAdjust="spacingAndGlyphs">Q</text>
<text transform="translate(241.50,432.05) rotate(-90)" x="0" y="0" font-size="58" font-weight="bold" textLength="47.54" lengthAdjust="spacingAndGlyphs">&amp;</text>
<text transform="translate(241.50,371.21) rotate(-90)" x="0" y="0" font-size="58" font-weight="bold" textLength="58.31" lengthAdjust="spacingAndGlyphs">W</text>
<text transform="translate(241.50,300.32) rotate(-90)" x="0" y="0" font-size="58" font-weight="bold" textLength="116.75" lengthAdjust="spacingAndGlyphs">[kW]</text>
<text transform="translate(2150.00,939.92) rotate(-90)" x="0" y="0" font-size="58" font-weight="bold" textLength="131.14" lengthAdjust="spacingAndGlyphs">Mass</text>
<text transform="translate(2150.00,789.80) rotate(-90)" x="0" y="0" font-size="58" font-weight="bold" textLength="204.33" lengthAdjust="spacingAndGlyphs">flowrate,</text>
<text transform="translate(2150.00,571.74) rotate(-90)" x="0" y="0" font-size="58" font-weight="bold" textLength="46.82" lengthAdjust="spacingAndGlyphs">m</text>
<text transform="translate(2150.00,512.41) rotate(-90)" x="0" y="0" font-size="58" font-weight="bold" textLength="132.08" lengthAdjust="spacingAndGlyphs">[kg/s]</text>
<text transform="translate(2356.00,1066.77) rotate(-90)" x="0" y="0" font-size="58" font-weight="bold" textLength="130.82" lengthAdjust="spacingAndGlyphs">Ratio</text>
<text transform="translate(2356.00,921.14) rotate(-90)" x="0" y="0" font-size="58" font-weight="bold" textLength="51.72" lengthAdjust="spacingAndGlyphs">of</text>
<text transform="translate(2356.00,860.92) rotate(-90)" x="0" y="0" font-size="58" font-weight="bold" textLength="117.43" lengthAdjust="spacingAndGlyphs">mass</text>
<text transform="translate(2356.00,723.90) rotate(-90)" x="0" y="0" font-size="58" font-weight="bold" textLength="203.22" lengthAdjust="spacingAndGlyphs">flowrate,</text>
<text transform="translate(2356.00,506.07) rotate(-90)" x="0" y="0" font-size="58" font-weight="bold" textLength="47.68" lengthAdjust="spacingAndGlyphs">m</text>
<text transform="translate(2370.90,463.89) rotate(-90)" x="0" y="0" font-size="39" font-weight="bold" textLength="124.05" lengthAdjust="spacingAndGlyphs">RATIO</text>
<text transform="translate(2358.00,318.32) rotate(-90)" x="0" y="0" font-size="58" font-weight="bold" textLength="45.43" lengthAdjust="spacingAndGlyphs">[/]</text>
<text x="526.77" y="1405.30" font-size="58" font-weight="bold" textLength="313.03" lengthAdjust="spacingAndGlyphs">Superheating</text>
<text x="853.84" y="1405.30" font-size="58" font-weight="bold" textLength="159.52" lengthAdjust="spacingAndGlyphs">degree</text>
<text x="1030.63" y="1405.30" font-size="58" font-weight="bold" textLength="52.54" lengthAdjust="spacingAndGlyphs">of</text>
<text x="1092.02" y="1405.30" font-size="58" font-weight="bold" textLength="126.76" lengthAdjust="spacingAndGlyphs">R744</text>
<text x="1233.62" y="1405.30" font-size="58" font-weight="bold" textLength="135.30" lengthAdjust="spacingAndGlyphs">cycle,</text>
<text x="1383.01" y="1405.00" font-size="58" font-weight="bold" textLength="36.16" lengthAdjust="spacingAndGlyphs">Δ</text>
<text x="1451.79" y="1405.00" font-size="58" font-weight="bold" textLength="35.13" lengthAdjust="spacingAndGlyphs">T</text>
<text x="1484.79" y="1423.50" font-size="39" font-weight="bold" textLength="94.76" lengthAdjust="spacingAndGlyphs">SUH,</text>
<text x="1591.17" y="1423.50" font-size="39" font-weight="bold" textLength="89.12" lengthAdjust="spacingAndGlyphs">R744</text>
<text x="1701.62" y="1407.80" font-size="58" font-weight="bold" textLength="16.35" lengthAdjust="spacingAndGlyphs">[</text>
<text x="1716.94" y="1376.80" font-size="35" font-weight="bold" textLength="18.55" lengthAdjust="spacingAndGlyphs">o</text>
<text x="1736.82" y="1405.30" font-size="58" font-weight="bold" textLength="44.35" lengthAdjust="spacingAndGlyphs">C</text>
<text x="1777.19" y="1407.80" font-size="58" font-weight="bold" textLength="16.50" lengthAdjust="spacingAndGlyphs">]</text>
</svg></body></html>
